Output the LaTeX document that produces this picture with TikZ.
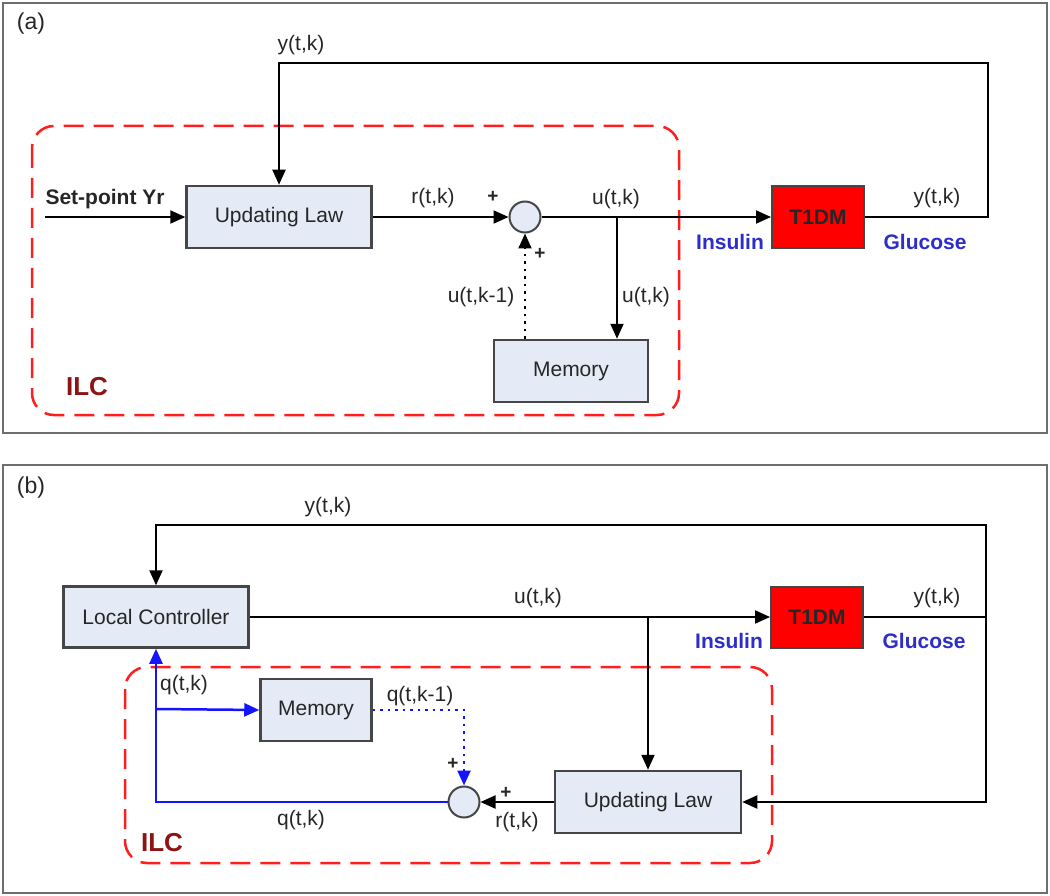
\documentclass[tikz,border=0pt]{standalone}
\usepackage{fontspec}
\setmainfont{Liberation Sans}
\usetikzlibrary{arrows.meta}

\definecolor{boxfill}{RGB}{228,235,246}
\definecolor{boxline}{RGB}{70,70,70}
\definecolor{ilcred}{RGB}{255,30,30}
\definecolor{ilctext}{RGB}{140,20,20}
\definecolor{sigblue}{RGB}{45,45,200}
\definecolor{qblue}{RGB}{20,20,255}
\definecolor{framegray}{RGB}{110,110,110}

\begin{document}
\begin{tikzpicture}[x=1pt, y=-1pt, line width=2pt,
  every node/.style={font=\fontsize{21}{25}\selectfont, text=black!85},
  block/.style={draw=boxline, fill=boxfill, line width=2.5pt, inner sep=0pt},
  plant/.style={draw=boxline, fill=red, line width=2pt, inner sep=0pt, font=\fontsize{21}{25}\selectfont\bfseries},
  sumnode/.style={circle, draw=boxline, fill=boxfill, line width=2pt, minimum size=31pt, inner sep=0pt},
  ilcbox/.style={draw=ilcred, dash pattern=on 20pt off 10pt, rounded corners=22pt, line width=2.5pt},
  sig/.style={-{Triangle[length=15pt,width=13pt]}},
  dots/.style={dash pattern=on 2.5pt off 5pt},
  pm/.style={font=\fontsize{19}{21}\selectfont\bfseries},
  bluelbl/.style={font=\fontsize{21}{25}\selectfont\bfseries, text=sigblue},
  ilclbl/.style={font=\fontsize{26}{30}\selectfont\bfseries, text=ilctext}]
\useasboundingbox (0,0) rectangle (1050,896);

% panel (a)
\draw[framegray] (3,3) rectangle (1047,433);
\node (taga) at (31,24) [font=\fontsize{23}{27}\selectfont] {(a)};
\draw[ilcbox] (32,126) rectangle (679,415);
\node (ilca) at (87,387) [ilclbl] {ILC};

\node (ula) at (279,217) [block, minimum width=185pt, minimum height=62pt] {Updating Law};
\node (suma) at (525,217) [sumnode] {};
\node (mema) at (571,371) [block, minimum width=154pt, minimum height=62pt] {Memory};
\node (t1a) at (818,217) [plant, minimum width=92pt, minimum height=62pt] {T1DM};
\coordinate (spa) at (45,217);
\coordinate (bra) at (617,217);

\draw[sig] (spa) -- (ula.west);
\draw[sig] (ula.east) -- (suma.west);
\draw[sig] (suma.east) -- (t1a.west);
\draw[sig] (t1a.east) -- (988,217) -- (988,63) -- (ula.north |- 0,63) -- (ula.north);
\draw[sig] (bra) -- (bra |- mema.north);
\draw[sig, dots] (suma.south |- mema.north) -- (suma.south);

\node (spl) at (105,199) [font=\fontsize{21}{25}\selectfont\bfseries] {Set-point Yr};
\node (ra) at (433,198) {r(t,k)};
\node (ua) at (616,199) {u(t,k)};
\node (ya1) at (301,45) {y(t,k)};
\node (ya2) at (937,198) {y(t,k)};
\node (ua2) at (646,297) {u(t,k)};
\node (ua3) at (481,297) {u(t,k-1)};
\node (pa1) at (493,197) [pm] {+};
\node (pa2) at (540,254) [pm] {+};
\node (ina) at (730,242) [bluelbl] {Insulin};
\node (gla) at (925,242) [bluelbl] {Glucose};

% panel (b)
\draw[framegray] (3,465) rectangle (1047,893);
\node (tagb) at (31,488) [font=\fontsize{23}{27}\selectfont] {(b)};
\draw[ilcbox] (125,667) rectangle (772,863);
\node (ilcb) at (162,843) [ilclbl] {ILC};

\node (lcb) at (156,617) [block, minimum width=185pt, minimum height=61pt] {Local Controller};
\node (memb) at (316,710) [block, minimum width=111pt, minimum height=62pt] {Memory};
\node (t1b) at (817,617) [plant, minimum width=92pt, minimum height=61pt] {T1DM};
\node (ulb) at (648,802) [block, minimum width=186pt, minimum height=62pt] {Updating Law};
\node (sumb) at (464,802) [sumnode] {};
\coordinate (brb) at (648,617);
\coordinate (qbr) at (156,709);

\draw[sig] (lcb.east) -- (t1b.west);
\draw[sig] (t1b.east) -- (986,617) -- (986,525) -- (lcb.north |- 0,525) -- (lcb.north);
\draw[sig] (986,617) -- (986,802) -- (ulb.east);
\draw[sig] (brb) -- (ulb.north);
\draw[sig] (ulb.west) -- (sumb.east);
\draw[sig, qblue, line width=2.5pt] (sumb.west) -- (lcb.south |- sumb.west) -- (lcb.south);
\draw[sig, qblue, line width=2.5pt] (qbr) -- (memb.west);
\draw[sig, qblue, dots, line width=2.5pt] (memb.east) -- (sumb.north |- memb.east) -- (sumb.north);

\node (yb1) at (328,507) {y(t,k)};
\node (ub) at (538,598) {u(t,k)};
\node (yb2) at (937,598) {y(t,k)};
\node (qb1) at (184,685) {q(t,k)};
\node (qb2) at (420,696) {q(t,k-1)};
\node (qb3) at (301,820) {q(t,k)};
\node (rb) at (517,822) {r(t,k)};
\node (pb1) at (453,764) [pm] {+};
\node (pb2) at (506,793) [pm] {+};
\node (inb) at (729,641) [bluelbl] {Insulin};
\node (glb) at (924,641) [bluelbl] {Glucose};
\end{tikzpicture}
\end{document}
